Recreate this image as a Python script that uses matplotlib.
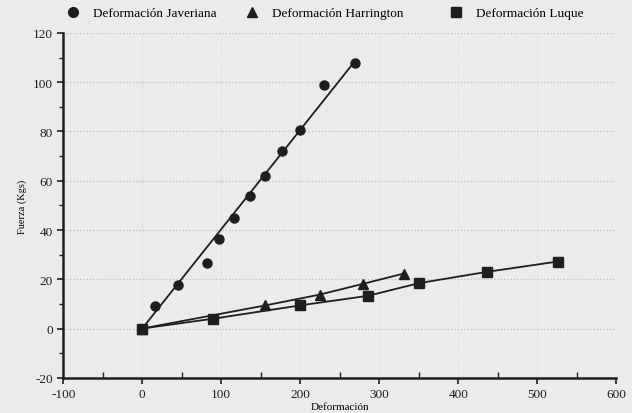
import numpy as np
import matplotlib
matplotlib.use('Agg')
import matplotlib.pyplot as plt
from matplotlib.lines import Line2D
from matplotlib.ticker import MultipleLocator

# Data
jav_x = [0, 16, 45, 82, 97, 116, 137, 156, 177, 200, 230, 270]
jav_y = [0, 9.2, 17.8, 26.7, 36.2, 44.8, 54, 62, 72, 80.6, 99, 108]

har_x = [0, 156, 225, 280, 331]
har_y = [0, 9.4, 13.8, 18.2, 22.3]

luq_x = [0, 90, 200, 286, 350, 436, 526]
luq_y = [0, 4, 9.4, 13.3, 18.4, 23, 27.2]

labels = ['Deformación Javeriana', 'Deformación Harrington', 'Deformación Luque']

plt.rcParams['font.family'] = ['Liberation Serif', 'DejaVu Serif']
plt.rcParams['axes.unicode_minus'] = False

bg = '#ebebeb'
ink = '#1e1e1e'

fig = plt.figure(figsize=(6.32, 4.14), dpi=100, facecolor=bg)
ax = fig.add_axes([0.1, 0.085, 0.875, 0.833], facecolor=bg)

# linear trend for Javeriana, through the origin
jx = np.array(jav_x, dtype=float)
jy = np.array(jav_y, dtype=float)
slope = (jx * jy).sum() / (jx * jx).sum()
xs = np.array([jx.min(), jx.max()])
ax.plot(xs, slope * xs, color=ink, lw=1.3)
ax.plot(jav_x, jav_y, 'o', color=ink, ms=6.5, ls='none')

ax.plot(har_x, har_y, '-^', color=ink, ms=7, lw=1.3)
ax.plot(luq_x, luq_y, '-s', color=ink, ms=7, lw=1.3)

ax.set_xlim(-100, 600)
ax.set_ylim(-20, 120)
ax.xaxis.set_major_locator(MultipleLocator(100))
ax.xaxis.set_minor_locator(MultipleLocator(50))
ax.yaxis.set_major_locator(MultipleLocator(20))
ax.yaxis.set_minor_locator(MultipleLocator(10))

for s in ['top', 'right']:
    ax.spines[s].set_visible(False)
for s in ['left', 'bottom']:
    ax.spines[s].set_linewidth(1.8)
    ax.spines[s].set_color(ink)

ax.tick_params(which='major', direction='out', length=4, width=1.2, colors=ink, labelsize=9.5)
ax.tick_params(axis='x', which='minor', direction='in', length=4, width=1.0, colors=ink)
ax.tick_params(axis='y', which='minor', direction='out', length=3, width=1.0, colors=ink)

ax.grid(axis='y', which='major', color='#bcbcbc', ls=':', lw=0.9)
ax.grid(axis='x', which='major', color='#d4d4d4', ls=':', lw=0.6)
ax.set_axisbelow(True)

ax.set_xlabel('Deformación', fontsize=8, labelpad=1)
ax.set_ylabel('Fuerza (Kgs)', fontsize=7.5, labelpad=4)

# legend entries laid out along the top as in the original
markers = ['o', '^', 's']
legend_x = [0.105, 0.388, 0.711]
for m, lab, lx in zip(markers, labels, legend_x):
    h = Line2D([], [], marker=m, color=ink, ls='none', ms=7)
    fig.legend([h], [lab], loc='center left', bbox_to_anchor=(lx, 0.966),
               frameon=False, fontsize=9.5, handletextpad=1.0,
               handlelength=1.0, borderpad=0, borderaxespad=0)

fig.savefig('out.png', dpi=100, facecolor=bg)
